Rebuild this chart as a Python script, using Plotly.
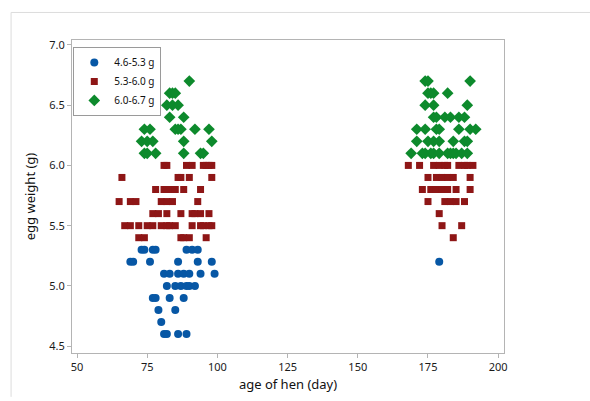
import plotly.graph_objects as go

# Egg weight (g) by age of hen (day), grouped into three weight classes.
# Each row: (egg weight, [ages of hen in days with that weight])
small_rows = [
    (5.3, [73, 74, 77, 78, 89, 91, 93]),
    (5.2, [69, 70, 76, 86, 93, 98, 179]),
    (5.1, [81, 83, 86, 88, 90, 94, 99]),
    (5.0, [82, 85, 87, 89, 90, 92]),
    (4.9, [77, 78, 83, 88]),
    (4.8, [79, 85]),
    (4.7, [80]),
    (4.6, [81, 82, 86, 89]),
]
medium_rows = [
    (6.0, [81, 82, 89, 91, 95, 96, 97, 98, 168, 172, 177, 179, 181, 182, 186, 188, 189, 191]),
    (5.9, [66, 86, 87, 90, 98, 175, 178, 180, 182, 184, 190]),
    (5.8, [78, 81, 82, 84, 85, 88, 94, 173, 176, 178, 180, 182, 185, 190]),
    (5.7, [65, 69, 71, 80, 82, 84, 93, 175, 181, 183, 185, 188]),
    (5.6, [77, 79, 82, 87, 91, 92, 94, 97, 179]),
    (5.5, [67, 69, 72, 75, 77, 80, 82, 83, 85, 91, 94, 95, 97, 98, 180, 187]),
    (5.4, [72, 74, 87, 88, 90, 96, 184]),
]
large_rows = [
    (6.7, [90, 174, 175, 190]),
    (6.6, [83, 84, 85, 175, 176, 177, 182]),
    (6.5, [82, 84, 86, 174, 177, 189]),
    (6.4, [83, 88, 177, 178, 181, 183, 186, 188]),
    (6.3, [74, 76, 85, 86, 87, 92, 97, 171, 174, 178, 179, 186, 190, 192]),
    (6.2, [73, 75, 77, 88, 98, 171, 175, 177, 179, 184, 188, 189]),
    (6.1, [74, 75, 78, 88, 94, 95, 169, 173, 174, 176, 177, 179, 182, 183, 184, 185, 187, 189]),
]

group_names = ["4.6-5.3 g", "5.3-6.0 g", "6.0-6.7 g"]
x_ticks = [50, 75, 100, 125, 150, 175, 200]
y_ticks = [4.5, 5.0, 5.5, 6.0, 6.5, 7.0]


def flatten(rows):
    days, weights = [], []
    for w, ds in rows:
        for d in ds:
            days.append(d)
            weights.append(w)
    return days, weights


styles = [
    dict(symbol="circle", color="#0757a5", size=8),
    dict(symbol="square", color="#8e1616", size=7),
    dict(symbol="diamond", color="#0d8a2c", size=9),
]

fig = go.Figure()
for name, rows, st in zip(group_names, [small_rows, medium_rows, large_rows], styles):
    xs, ys = flatten(rows)
    fig.add_trace(go.Scatter(
        x=xs, y=ys, mode="markers", name=name,
        marker=dict(symbol=st["symbol"], color=st["color"], size=st["size"],
                    line=dict(width=0)),
    ))

FONT = "Noto Sans, Open Sans, sans-serif"
axis_common = dict(
    showgrid=False, zeroline=False,
    showline=True, linecolor="#b4b4b4", linewidth=1, mirror=True,
    ticks="outside", ticklen=4, tickcolor="#b4b4b4",
    tickfont=dict(family=FONT, size=11, color="#1a1a1a"),
)

fig.update_layout(
    width=590, height=401,
    margin=dict(l=72, r=86, t=40, b=44),
    paper_bgcolor="white", plot_bgcolor="white",
    font=dict(family=FONT, color="#1a1a1a"),
    showlegend=True,
    legend=dict(
        x=0.003, y=0.978, xanchor="left", yanchor="top",
        bordercolor="#9a9a9a", borderwidth=1, bgcolor="white",
        font=dict(family=FONT, size=10, color="#111"),
        tracegroupgap=0, itemsizing="trace", itemwidth=30,
    ),
    xaxis=dict(
        range=[48.22, 202.07], tickvals=x_ticks,
        title=dict(text="age of hen (day)", font=dict(family=FONT, size=13, color="#111"), standoff=6),
        **axis_common,
    ),
    yaxis=dict(
        range=[4.443, 7.041], tickvals=y_ticks, tickformat=".1f",
        title=dict(text="egg weight (g)", font=dict(family=FONT, size=13, color="#111"), standoff=10),
        **axis_common,
    ),
)

# Outer window frame (top and left edges)
fig.add_shape(type="line", xref="paper", yref="paper",
              x0=-0.141, y0=1.088, x1=1.2, y1=1.088,
              line=dict(color="#dcdcdc", width=1))
fig.add_shape(type="line", xref="paper", yref="paper",
              x0=-0.141, y0=1.088, x1=-0.141, y1=-0.14,
              line=dict(color="#dcdcdc", width=1))

fig.write_html("out.html")
